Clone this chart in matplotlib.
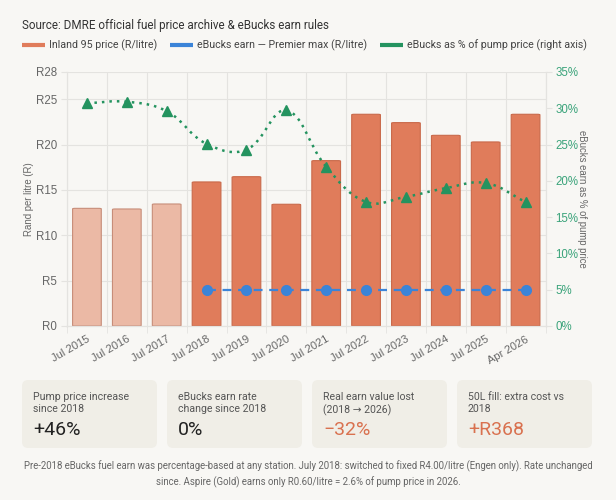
import matplotlib
matplotlib.use("Agg")
import matplotlib.pyplot as plt
import numpy as np
from matplotlib.path import Path
from matplotlib.patches import PathPatch, FancyBboxPatch
from matplotlib.lines import Line2D

# ---------------- data ----------------
categories = ["Jul 2015", "Jul 2016", "Jul 2017", "Jul 2018", "Jul 2019", "Jul 2020",
              "Jul 2021", "Jul 2022", "Jul 2023", "Jul 2024", "Jul 2025", "Apr 2026"]
pump_price = [12.97, 12.90, 13.45, 15.88, 16.46, 13.42, 18.23, 23.34, 22.42, 21.02, 20.29, 23.34]
ebucks_earn = [None, None, None, 4.0, 4.0, 4.0, 4.0, 4.0, 4.0, 4.0, 4.0, 4.0]
ebucks_pct = [30.7, 30.9, 29.6, 25.1, 24.3, 29.7, 21.95, 17.1, 17.8, 19.0, 19.7, 17.1]
pre2018_count = 3
left_ticks = [0, 5, 10, 15, 20, 25, 28]
right_ticks = [0, 5, 10, 15, 20, 25, 30, 35]
card_labels = ["Pump price increase\nsince 2018", "eBucks earn rate\nchange since 2018",
               "Real earn value lost\n(2018 \u2192 2026)", "50L fill: extra cost vs\n2018"]
card_values = ["+46%", "0%", "\u221232%", "+R368"]
card_highlight = [False, False, True, True]
title = "Source: DMRE official fuel price archive & eBucks earn rules"
legend_labels = ["Inland 95 price (R/litre)", "eBucks earn \u2014 Premier max (R/litre)",
                 "eBucks as % of pump price (right axis)"]
footnote = ("Pre-2018 eBucks fuel earn was percentage-based at any station. July 2018: switched to fixed R4.00/litre (Engen only). Rate unchanged\n"
            "since. Aspire (Gold) earns only R0.60/litre = 2.6% of pump price in 2026.")

# ---------------- style ----------------
BG = "#f8f7f4"
CARD = "#f0eee7"
BAR_DARK = "#e07c5b"
BAR_DARK_EDGE = "#c9694a"
BAR_LIGHT = "#ebb9a5"
BAR_LIGHT_EDGE = "#c78d79"
BLUE = "#3b84d8"
GREEN = "#24935f"
GRID = "#e4e3e0"
TICK = "#666666"
UI_FONT = ["Roboto", "DejaVu Sans"]
AX_FONT = ["Liberation Sans", "DejaVu Sans"]

W, H = 616, 500
fig = plt.figure(figsize=(W / 100, H / 100), dpi=100, facecolor=BG)

def fx(px):
    return px / W

def fy(py):
    return 1 - py / H

ax_l, ax_r, ax_t, ax_b = 67, 545.5, 72, 326
ax = fig.add_axes([fx(ax_l), fy(ax_b), fx(ax_r - ax_l), (ax_b - ax_t) / H])
ax.set_facecolor(BG)
ax2 = ax.twinx()

n = len(categories)
x = np.arange(n)
ax.set_xlim(-0.5, n - 0.5)
ax.set_ylim(0, 28)
ax2.set_ylim(0, 35)

# bars
for i in range(n):
    light = i < pre2018_count
    fc = BAR_LIGHT if light else BAR_DARK
    ec = BAR_LIGHT_EDGE if light else BAR_DARK_EDGE
    bw = 0.72
    p = FancyBboxPatch((x[i] - bw / 2, 0), bw, pump_price[i],
                       boxstyle="round,pad=0,rounding_size=0.06",
                       mutation_aspect=1.0,
                       facecolor=fc, edgecolor=ec, linewidth=0.8, zorder=2)
    ax.add_patch(p)

# grid
for gx in np.arange(-0.5, n, 1.0):
    ax.axvline(gx, color=GRID, lw=0.8, zorder=0)
for gy in left_ticks:
    ax.axhline(gy, color=GRID, lw=0.8, zorder=0)

# blue earn line
bx = [xi for xi, v in zip(x, ebucks_earn) if v is not None]
by = [v for v in ebucks_earn if v is not None]
ax.plot(bx, by, color=BLUE, lw=1.6, ls=(0, (4, 3)), zorder=4)
ax.plot(bx, by, ls="none", marker="o", ms=7, color=BLUE, zorder=5)

# green smoothed pct line (chart.js style spline, tension 0.4)
fig.canvas.draw()
pts = ax2.transData.transform(np.column_stack([x, ebucks_pct]))
tension = 0.4
ctrl_prev, ctrl_next = [], []
for i in range(n):
    cur = pts[i]
    prev = pts[i - 1] if i > 0 else cur
    nxt = pts[i + 1] if i < n - 1 else cur
    d01 = np.hypot(*(cur - prev))
    d12 = np.hypot(*(nxt - cur))
    tot = d01 + d12
    s01 = d01 / tot if tot else 0
    s12 = d12 / tot if tot else 0
    fa = tension * s01
    fb = tension * s12
    ctrl_prev.append(cur - fa * (nxt - prev))
    ctrl_next.append(cur + fb * (nxt - prev))
verts = [pts[0]]
codes = [Path.MOVETO]
for i in range(n - 1):
    verts += [ctrl_next[i], ctrl_prev[i + 1], pts[i + 1]]
    codes += [Path.CURVE4] * 3
verts = ax2.transData.inverted().transform(np.array(verts))
path = Path(verts, codes)
ax2.add_patch(PathPatch(path, facecolor="none", edgecolor=GREEN, lw=1.8,
                        ls=(0, (1, 2)), zorder=4))
ax2.plot(x, ebucks_pct, ls="none", marker="^", ms=7.5, color=GREEN, zorder=5)

# axes styling
ax.set_xticks(x)
ax.set_xticklabels(categories, rotation=30, ha="right", rotation_mode="anchor",
                   fontsize=8.0, color=TICK, family=AX_FONT)
ax.tick_params(axis="x", length=0, pad=6)
ax.set_xticks(np.arange(-0.5, n, 1.0), minor=True)
ax.tick_params(axis="x", which="minor", length=5, color=GRID)
ax.set_yticks(left_ticks)
ax.set_yticklabels([f"R{v}" for v in left_ticks], fontsize=8.3, color=TICK, family=AX_FONT)
ax.tick_params(axis="y", length=4, color=GRID, pad=3)
ax2.set_yticks(right_ticks)
ax2.set_yticklabels([f"{v}%" for v in right_ticks], fontsize=8.3, color="#3aa37a", family=AX_FONT)
ax2.tick_params(axis="y", length=4, color=GRID, pad=3)
for a in (ax, ax2):
    for s in a.spines.values():
        s.set_color(GRID)
        s.set_linewidth(0.8)
    a.spines["top"].set_visible(False)
ax.set_ylabel("Rand per litre (R)", fontsize=6.9, color=TICK, family=AX_FONT, labelpad=1.5)
ax2.set_ylabel("eBucks earn as % of pump price", fontsize=6.9, color=TICK, family=AX_FONT,
               rotation=270, labelpad=6)

# title and legend
fig.text(fx(22), fy(26), title, fontsize=8.4, color="#333333", family=UI_FONT, va="center")
legend_x = [22, 170, 380]
legend_colors = [BAR_DARK, BLUE, GREEN]
for lx, lc, lt in zip(legend_x, legend_colors, legend_labels):
    fig.add_artist(Line2D([fx(lx), fx(lx + 23)], [fy(45), fy(45)], color=lc, lw=3,
                          solid_capstyle="butt", transform=fig.transFigure))
    fig.text(fx(lx + 27), fy(45), lt, fontsize=7.7, color="#444444", family=UI_FONT, va="center")

# cards
card_x = [22, 167, 312, 457]
card_w = 135
card_top, card_bot = 380, 448
for cx, lab, val, hi in zip(card_x, card_labels, card_values, card_highlight):
    box = FancyBboxPatch((fx(cx), fy(card_bot)), fx(card_w), (card_bot - card_top) / H,
                         boxstyle="round,pad=0,rounding_size=0.01",
                         mutation_aspect=W / H,
                         transform=fig.transFigure, facecolor=CARD, edgecolor="none")
    fig.add_artist(box)
    fig.text(fx(cx + 11), fy(391.5), lab, fontsize=7.55, color="#555555", family=UI_FONT,
             va="top", linespacing=1.3)
    fig.text(fx(cx + 11), fy(430), val, fontsize=14, color="#d9714f" if hi else "#222222",
             family=UI_FONT, va="center")

fig.text(0.5, fy(474), footnote, fontsize=6.95, color="#666666", family=UI_FONT,
         ha="center", va="center", linespacing=1.55)

fig.savefig("out.png", dpi=100, facecolor=BG)
